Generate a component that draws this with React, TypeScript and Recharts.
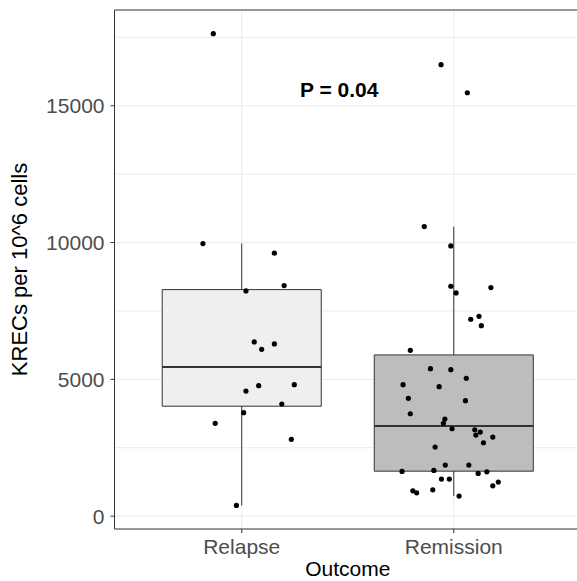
import React from 'react';
import {
  ComposedChart,
  Scatter,
  XAxis,
  YAxis,
  CartesianGrid,
  ReferenceArea,
  ReferenceLine,
  ReferenceDot,
} from 'recharts';

const categories = ['Relapse', 'Remission'];

// KRECs per 10^6 cells
const relapseValues = [17634, 9962, 9610, 8426, 8232, 6366, 6097, 6293, 4805, 4768, 4573, 4098, 3780, 3391, 2806, 390];
const relapseJitter = [-0.134, -0.183, 0.154, 0.2, 0.02, 0.059, 0.094, 0.154, 0.248, 0.08, 0.02, 0.189, 0.009, -0.125, 0.234, -0.025];

const remissionValues = [
  16500, 15475, 10584, 9878, 8403, 8158, 8354, 7305, 7196, 6963, 6060, 5389, 5352, 5036, 4805, 4731, 4305, 4219, 3743, 3549, 3391,
  3194, 3157, 3073, 2963, 2890, 2682, 2524, 1866, 1866, 1635, 1672, 1562, 1621, 1354, 1354, 1244, 1108, 926, 852, 962, 732,
];
const remissionJitter = [
  -0.06, 0.064, -0.139, -0.014, -0.014, 0.011, 0.175, 0.119, 0.08, 0.13, -0.205, -0.11, -0.014, 0.059, -0.239, -0.069, -0.214, 0.055,
  -0.205, -0.042, -0.049, -0.008, 0.099, 0.125, 0.104, 0.184, 0.14, -0.088, -0.04, 0.071, -0.244, -0.094, 0.115, 0.156, -0.058, -0.021,
  0.21, 0.184, -0.193, -0.175, -0.099, 0.025,
];

const boxFills = ['#efefef', '#bdbdbd'];
const yTicks = [0, 5000, 10000, 15000];
const yGrid = [0, 2500, 5000, 7500, 10000, 12500, 15000, 17500];
const yDomain = [-470, 18500];
const xDomain = [0.4, 2.6];
const pLabel = 'P = 0.04';
const pX = 1.46;
const pY = 15600;

const quantile = (sorted: number[], p: number) => {
  const pos = (sorted.length - 1) * p;
  const lo = Math.floor(pos);
  const hi = Math.ceil(pos);
  return sorted[lo] + (sorted[hi] - sorted[lo]) * (pos - lo);
};

// same rules as geom_boxplot: type-7 quantiles, whiskers to 1.5 IQR
const boxStats = (vals: number[]) => {
  const s = [...vals].sort((a, b) => a - b);
  const q1 = quantile(s, 0.25);
  const med = quantile(s, 0.5);
  const q3 = quantile(s, 0.75);
  const iqr = q3 - q1;
  const lo = Math.min(...s.filter((v) => v >= q1 - 1.5 * iqr));
  const hi = Math.max(...s.filter((v) => v <= q3 + 1.5 * iqr));
  return { q1, med, q3, lo, hi };
};

const groups = [
  { pos: 1, values: relapseValues, jitter: relapseJitter },
  { pos: 2, values: remissionValues, jitter: remissionJitter },
];

const points = groups.flatMap((g) => g.values.map((v, i) => ({ x: g.pos + g.jitter[i], y: v })));
const stats = groups.map((g) => ({ pos: g.pos, ...boxStats(g.values) }));

const font = 'Liberation Sans, Arial, sans-serif';
const ink = '#333333';
const halfBox = 0.375;

const Dot = (p: any) => <circle cx={p.cx} cy={p.cy} r={2.6} fill="#000" />;

export default function App() {
  return (
    <div style={{ position: 'absolute', left: 0, top: 0, width: 577, height: 581, overflow: 'hidden', background: '#fff' }}>
      <ComposedChart
        width={581}
        height={581}
        margin={{ top: 10, right: 0, bottom: 0, left: 0 }}
        style={{ fontFamily: font }}
      >
        <CartesianGrid stroke="#ebebeb" horizontalValues={yGrid} verticalValues={[1, 2]} />
        <XAxis
          type="number"
          dataKey="x"
          domain={xDomain}
          ticks={[1, 2]}
          tickFormatter={(v) => categories[v - 1]}
          height={52}
          tickSize={4}
          tickMargin={6}
          stroke={ink}
          tick={{ fill: '#4d4d4d', fontSize: 21 }}
          allowDataOverflow
          label={{
            content: ({ viewBox }: any) => (
              <text x={viewBox.x + viewBox.width / 2} y={viewBox.y + 47} textAnchor="middle" fontSize={21} fill="#000">
                Outcome
              </text>
            ),
          }}
        />
        <YAxis
          type="number"
          dataKey="y"
          domain={yDomain}
          ticks={yTicks}
          width={114.5}
          tickSize={4}
          tickMargin={6}
          stroke={ink}
          tick={{ fill: '#4d4d4d', fontSize: 21 }}
          allowDataOverflow
          label={{
            content: ({ viewBox }: any) => {
              const cx = viewBox.x + 19;
              const cy = viewBox.y + viewBox.height / 2;
              return (
                <text x={cx} y={cy} transform={`rotate(-90 ${cx} ${cy})`} textAnchor="middle" dominantBaseline="central" fontSize={22} fill="#000">
                  KRECs per 10^6 cells
                </text>
              );
            },
          }}
        />
        {stats.map((s, i) => (
          <ReferenceArea
            key={'box' + i}
            x1={s.pos - halfBox}
            x2={s.pos + halfBox}
            y1={s.q1}
            y2={s.q3}
            fill={boxFills[i]}
            fillOpacity={1}
            stroke={ink}
            strokeWidth={1}
          />
        ))}
        {stats.map((s, i) => (
          <ReferenceLine key={'wu' + i} segment={[{ x: s.pos, y: s.q3 }, { x: s.pos, y: s.hi }]} stroke={ink} strokeWidth={1} />
        ))}
        {stats.map((s, i) => (
          <ReferenceLine key={'wl' + i} segment={[{ x: s.pos, y: s.lo }, { x: s.pos, y: s.q1 }]} stroke={ink} strokeWidth={1} />
        ))}
        {stats.map((s, i) => (
          <ReferenceLine
            key={'med' + i}
            segment={[{ x: s.pos - halfBox, y: s.med }, { x: s.pos + halfBox, y: s.med }]}
            stroke={ink}
            strokeWidth={2}
          />
        ))}
        {/* panel border, top edge */}
        <ReferenceLine y={yDomain[1]} stroke={ink} strokeWidth={1.2} ifOverflow="visible" />
        <Scatter data={points} dataKey="y" shape={Dot} isAnimationActive={false} />
        <ReferenceDot
          x={pX}
          y={pY}
          r={0}
          fill="none"
          stroke="none"
          label={{ value: pLabel, position: 'center', fontSize: 21, fontWeight: 'bold', fill: '#000' }}
        />
      </ComposedChart>
    </div>
  );
}
